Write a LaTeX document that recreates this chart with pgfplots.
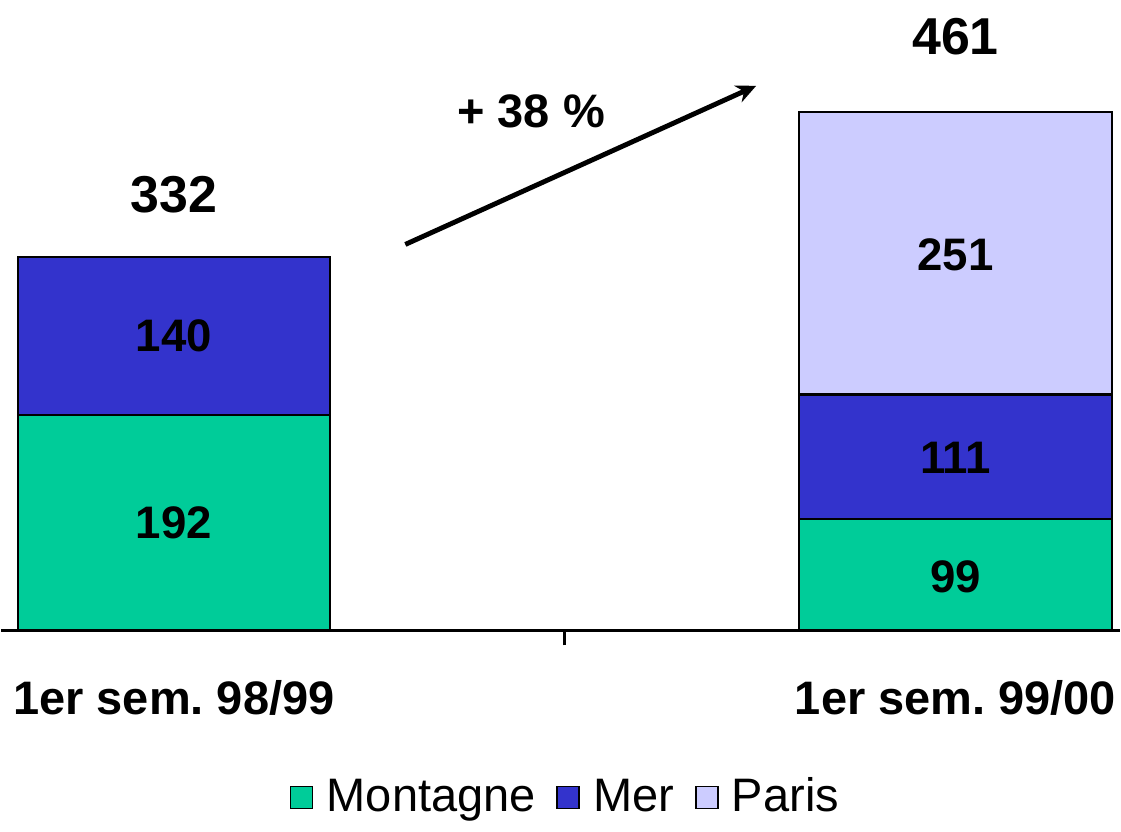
\documentclass[border=0pt]{standalone}
\usepackage{fontspec}
\setmainfont{Liberation Sans}
\usepackage{pgfplots}
\pgfplotsset{compat=1.18}
\usetikzlibrary{arrows.meta}
\definecolor{montagne}{HTML}{00CC99}
\definecolor{mer}{HTML}{3333CC}
\definecolor{paris}{HTML}{CCCCFF}
\frenchspacing
\begin{document}
\begin{tikzpicture}
\begin{axis}[
  scale only axis, width=11.21cm, height=6.32cm,
  xmin=-0.2208, xmax=1.2099, ymin=0, ymax=561,
  axis x line*=bottom, axis y line=none,
  x axis line style={line width=0.8pt, black},
  xtick={0.5}, xticklabels={}, major tick length=0.15cm,
  tick align=outside, tick style={line width=0.8pt, black},
  extra x ticks={0,1},
  extra x tick labels={1er sem.\ 98/99, 1er sem.\ 99/00},
  extra x tick style={major tick length=0pt,
    tick label style={font=\fontsize{13.4}{16}\selectfont\bfseries, inner xsep=0pt, yshift=-0.38cm}},
  legend style={at={(0.505,-0.265)}, anchor=center, draw=none,
    legend columns=-1, font=\fontsize{13.4}{16}\selectfont,
    nodes={inner xsep=1pt},
    /tikz/every even column/.append style={column sep=0.17cm},
    /tikz/every odd column/.append style={column sep=0.1cm}},
  reverse legend,
  clip=false,
]
% cumulative tops: Paris = 99+111+251, Mer = Montagne+Mer
\addplot[ybar, bar width=0.4, bar shift=0pt, fill=paris, draw=black, line width=0.6pt, forget plot]
  coordinates {(1,461)};
\addplot[ybar, bar width=0.4, bar shift=0pt, fill=mer, draw=black, line width=0.6pt, forget plot]
  coordinates {(0,332) (1,210)};
\addplot[ybar, bar width=0.4, bar shift=0pt, fill=montagne, draw=black, line width=0.6pt, forget plot]
  coordinates {(0,192) (1,99)};
\addlegendimage{legend image code/.code={\draw[fill=paris,draw=black,line width=0.5pt] (0cm,-0.11cm) rectangle (0.22cm,0.11cm);}}
\addlegendentry{Paris}
\addlegendimage{legend image code/.code={\draw[fill=mer,draw=black,line width=0.5pt] (0cm,-0.11cm) rectangle (0.22cm,0.11cm);}}
\addlegendentry{Mer}
\addlegendimage{legend image code/.code={\draw[fill=montagne,draw=black,line width=0.5pt] (0cm,-0.11cm) rectangle (0.22cm,0.11cm);}}
\addlegendentry{Montagne}
\path (rel axis cs:0,1) (rel axis cs:1,1);
\node[font=\fontsize{13}{16}\selectfont\bfseries] at (axis cs:0,96) {192};
\node[font=\fontsize{13}{16}\selectfont\bfseries] at (axis cs:0,262) {140};
\node[font=\fontsize{13}{16}\selectfont\bfseries] at (axis cs:1,48) {99};
\node[font=\fontsize{13}{16}\selectfont\bfseries] at (axis cs:1,154) {111};
\node[font=\fontsize{13}{16}\selectfont\bfseries] at (axis cs:1,334) {251};
\node[font=\fontsize{14.8}{18}\selectfont\bfseries] at (axis cs:0,388) {332};
\node[font=\fontsize{14.8}{18}\selectfont\bfseries] at (axis cs:1,528) {461};
\draw[-{Stealth[length=0.2cm,width=0.18cm]}, line width=1.4pt] (axis cs:0.296,343.5) -- (axis cs:0.745,484.7);
\node[font=\fontsize{13.4}{16}\selectfont\bfseries] at (axis cs:0.457,461.6) {+ 38 \%};
\end{axis}
\end{tikzpicture}
\end{document}
